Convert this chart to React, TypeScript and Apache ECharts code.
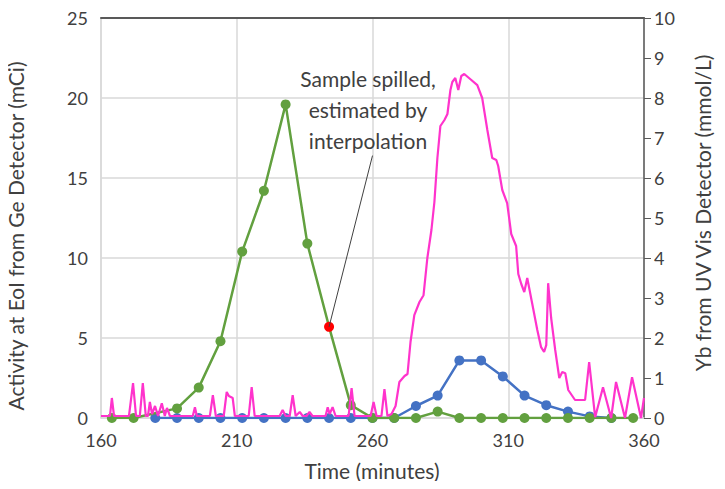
import React, { useEffect, useRef } from "react";
import * as echarts from "echarts";

// Green: activity at EoI from Ge detector (mCi), left axis
const greenTimes = [164, 172, 188, 196, 204, 212, 220, 228, 236, 244, 252, 260, 268, 276, 284, 292, 300, 308, 316, 324, 332, 340, 348, 356];
const greenValues = [0, 0, 0.6, 1.9, 4.8, 10.4, 14.2, 19.6, 10.9, 5.7, 0.8, 0, 0, 0, 0.4, 0, 0, 0, 0, 0, 0, 0, 0, 0];
const spilledTime = 244; // interpolated point

// Blue: second activity series (mCi), left axis
const blueTimes = [180, 188, 196, 204, 212, 220, 228, 236, 244, 252, 260, 268, 276, 284, 292, 300, 308, 316, 324, 332, 340, 348];
const blueValues = [0, 0, 0, 0, 0, 0, 0, 0, 0, 0, 0, 0, 0.75, 1.4, 3.6, 3.6, 2.6, 1.4, 0.8, 0.4, 0.1, 0];

// Pink: Yb from UV Vis detector (mmol/L), right axis
const pinkTimes = [
  160.0, 162.6, 163.3, 164.0, 164.8, 167.0, 169.2, 170.3, 171.8, 172.9, 174.3, 175.4, 176.5, 177.3, 178.0, 178.8,
  179.9, 181.0, 182.4, 183.5, 184.3, 185.4, 187.2, 189.0, 192.7, 193.8, 194.6, 195.3, 200.1, 201.2, 202.3, 205.2,
  206.3, 207.1, 208.5, 209.3, 214.4, 215.5, 216.6, 222.1, 225.8, 226.9, 228.0, 229.5, 230.6, 231.7, 233.2, 234.3,
  235.7, 236.8, 237.9, 242.7, 243.5, 244.2, 245.3, 246.4, 251.2, 252.3, 253.4, 259.3, 260.4, 261.5, 263.3, 264.4,
  265.5, 267.0, 268.5, 269.9, 271.8, 272.9, 274.0, 275.4, 277.3, 278.8, 280.2, 281.7, 282.8, 283.9, 285.0, 286.5,
  287.6, 288.7, 289.4, 290.5, 291.6, 292.7, 293.8, 296.4, 298.6, 300.4, 302.3, 304.1, 305.6, 306.3, 307.8, 309.6,
  311.1, 312.9, 313.7, 314.8, 315.9, 317.0, 318.8, 320.7, 322.1, 323.2, 324.0, 324.7, 325.8, 327.3, 328.8, 329.9,
  331.0, 332.1, 334.6, 338.3, 339.8, 342.0, 344.9, 347.9, 349.7, 353.0, 355.6, 358.9, 360.0,
];
const pinkValues = [
  0.05, 0.05, 0.05, 0.5, 0.05, 0.05, 0.05, 0.05, 0.87, 0.05, 0.05, 0.87, 0.05, 0.05, 0.4, 0.1,
  0.3, 0.05, 0.37, 0.05, 0.25, 0.05, 0.05, 0.05, 0.05, 0.05, 0.27, 0.05, 0.05, 0.57, 0.05, 0.05,
  0.65, 0.55, 0.5, 0.05, 0.05, 0.77, 0.05, 0.05, 0.05, 0.2, 0.05, 0.05, 0.57, 0.05, 0.15, 0.05,
  0.05, 0.15, 0.05, 0.05, 0.27, 0.1, 0.27, 0.05, 0.05, 0.75, 0.05, 0.05, 0.4, 0.05, 0.05, 0.72,
  0.05, 0.1, 0.3, 0.9, 1.05, 1.1, 1.9, 2.57, 2.9, 3.07, 4.0, 4.7, 5.4, 6.5, 7.3, 7.45,
  7.6, 8.2, 8.4, 8.5, 8.2, 8.55, 8.6, 8.45, 8.32, 8.0, 7.2, 6.5, 6.45, 6.3, 5.7, 5.37,
  4.6, 4.3, 3.6, 3.35, 3.15, 3.5, 2.87, 2.2, 1.77, 1.65, 1.82, 3.37, 2.5, 1.7, 1.0, 1.15,
  1.12, 0.7, 0.45, 0.45, 1.4, 0.02, 0.77, 0.0, 0.9, 0.0, 1.02, 0.0, 0.5,
];

const xTicks = { min: 160, max: 360, interval: 50 };
const leftTicks = { min: 0, max: 25, interval: 5 };
const rightTicks = { min: 0, max: 10, interval: 1 };

const annotationText = "Sample spilled,\nestimated by\ninterpolation";
const leaderEnd: [number, number] = [260, 16.4];
const xTitle = "Time (minutes)";
const leftTitle = "Activity at EoI from Ge Detector (mCi)";
const rightTitle = "Yb from UV Vis Detector (mmol/L)";

const FONT = "Lato, 'Open Sans', sans-serif";
const TXT = "#404040";
const TITLE_SIZE = 21;
const TICK_SIZE = 18;

export default function App() {
  const ref = useRef<HTMLDivElement>(null);
  useEffect(() => {
    if (!ref.current) return;
    const chart = echarts.init(ref.current, undefined, { renderer: "svg" });
    const green = greenTimes.map((t, i) =>
      t === spilledTime
        ? { value: [t, greenValues[i]], itemStyle: { color: "#FF0000" } }
        : { value: [t, greenValues[i]] }
    );
    const spilledIdx = greenTimes.indexOf(spilledTime);
    const blue = blueTimes.map((t, i) => [t, blueValues[i]]);
    const pink = pinkTimes.map((t, i) => [t, pinkValues[i]]);
    chart.setOption({
      animation: false,
      backgroundColor: "#ffffff",
      textStyle: { fontFamily: FONT },
      grid: { left: 101, right: 81, top: 18, bottom: 71, containLabel: false },
      xAxis: [
        {
          type: "value",
          ...xTicks,
          axisLine: { show: true, onZero: false, lineStyle: { color: "#d9d9d9", width: 1.5 } },
          axisTick: { show: false },
          splitLine: { show: true, lineStyle: { color: "#d9d9d9", width: 1.5 } },
          axisLabel: { color: TXT, fontSize: TICK_SIZE, fontFamily: FONT, margin: 13 },
        },
        {
          type: "value",
          position: "top",
          ...xTicks,
          axisLine: { show: true, onZero: false, lineStyle: { color: "#595959", width: 2 } },
          axisTick: { show: false },
          splitLine: { show: false },
          axisLabel: { show: false },
        },
      ],
      yAxis: [
        {
          type: "value",
          position: "left",
          ...leftTicks,
          axisLine: { show: true, lineStyle: { color: "#d9d9d9", width: 1.5 } },
          axisTick: { show: false },
          splitLine: { show: true, lineStyle: { color: "#d9d9d9", width: 1.5 } },
          axisLabel: { color: TXT, fontSize: TICK_SIZE, fontFamily: FONT, margin: 13 },
        },
        {
          type: "value",
          position: "right",
          ...rightTicks,
          axisLine: { show: true, lineStyle: { color: "#595959", width: 1.5 } },
          axisTick: { show: true, inside: false, length: 7, lineStyle: { color: "#595959", width: 1 } },
          splitLine: { show: false },
          axisLabel: { color: TXT, fontSize: TICK_SIZE, fontFamily: FONT, margin: 10 },
        },
      ],
      series: [
        {
          type: "line",
          name: "blue",
          xAxisIndex: 0,
          yAxisIndex: 0,
          data: blue,
          symbol: "circle",
          symbolSize: 10,
          lineStyle: { color: "#4472C4", width: 2.5 },
          itemStyle: { color: "#4472C4" },
          z: 2,
        },
        {
          type: "line",
          name: "green",
          xAxisIndex: 0,
          yAxisIndex: 0,
          data: green,
          symbol: "circle",
          symbolSize: 10,
          lineStyle: { color: "#62A03F", width: 2.5 },
          itemStyle: { color: "#62A03F" },
          z: 3,
          markLine: {
            silent: true,
            symbol: ["none", "none"],
            label: { show: false },
            lineStyle: { color: "#404040", width: 1, type: "solid" },
            data: [
              [
                { coord: [greenTimes[spilledIdx], greenValues[spilledIdx]] },
                { coord: leaderEnd },
              ],
            ],
          },
        },
        {
          type: "line",
          name: "pink",
          xAxisIndex: 0,
          yAxisIndex: 1,
          data: pink,
          symbol: "none",
          lineStyle: { color: "#FF33CC", width: 2.2 },
          itemStyle: { color: "#FF33CC" },
          z: 4,
        },
      ],
      graphic: [
        {
          type: "text",
          x: 368,
          y: 63,
          style: {
            text: annotationText,
            fill: TXT,
            font: `${TITLE_SIZE}px ${FONT}`,
            align: "center",
            verticalAlign: "top",
            lineHeight: 31,
          },
          z: 10,
        },
        {
          type: "text",
          x: 372,
          y: 470,
          style: {
            text: xTitle,
            fill: TXT,
            font: `${TITLE_SIZE}px ${FONT}`,
            align: "center",
            verticalAlign: "middle",
          },
        },
        {
          type: "text",
          x: 15,
          y: 236,
          rotation: Math.PI / 2,
          style: {
            text: leftTitle,
            fill: TXT,
            font: `${TITLE_SIZE}px ${FONT}`,
            align: "center",
            verticalAlign: "middle",
          },
        },
        {
          type: "text",
          x: 702,
          y: 213,
          rotation: Math.PI / 2,
          style: {
            text: rightTitle,
            fill: TXT,
            font: `${TITLE_SIZE}px ${FONT}`,
            align: "center",
            verticalAlign: "middle",
          },
        },
      ],
    });
    return () => chart.dispose();
  }, []);
  return <div ref={ref} style={{ width: 725, height: 489, margin: -8 }} />;
}
